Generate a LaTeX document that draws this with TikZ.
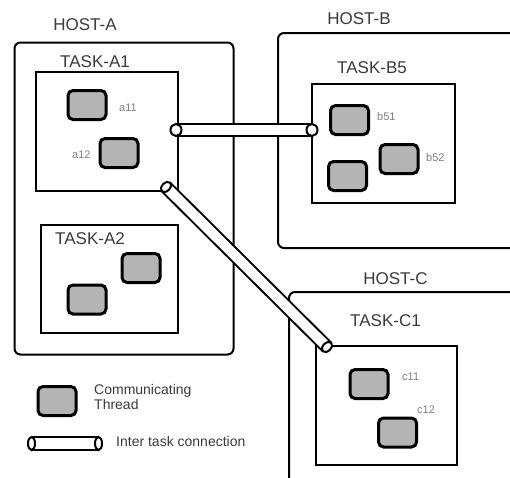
\documentclass[tikz,border=0pt]{standalone}
\usepackage{fontspec}
\setmainfont{Liberation Sans}
\usetikzlibrary{shapes.geometric}
\definecolor{threadgray}{HTML}{B4B4B4}
\definecolor{titlegray}{HTML}{3A3A3A}
\definecolor{namegray}{HTML}{808080}
\tikzset{
  host/.style={draw, line width=2pt, rounded corners=6pt, inner sep=0pt},
  task/.style={draw, line width=2pt, inner sep=0pt},
  thread/.style={draw, line width=3pt, rounded corners=5pt, fill=threadgray, minimum width=38pt, minimum height=29pt, inner sep=0pt},
  title/.style={text=titlegray, font=\fontsize{17}{17}\selectfont, inner sep=0pt},
  tname/.style={text=namegray, font=\fontsize{11}{11}\selectfont, inner sep=0pt, anchor=west},
  legendtext/.style={text=titlegray, font=\fontsize{14}{15}\selectfont, inner sep=0pt, align=left, anchor=west},
  tube/.style={line width=2pt, double=white, double distance=10pt},
  tubecap/.style={ellipse, draw, fill=white, line width=2pt, inner sep=0pt, minimum width=7pt, minimum height=12pt}
}

\begin{document}
\begin{tikzpicture}[x=1pt, y=-1pt]
\useasboundingbox (0,0) rectangle (510,477);
\clip (0,0) rectangle (510,477);

% hosts
\node[host, minimum width=219pt, minimum height=312pt] (hostA) at (124,198.5) {};
\node[host, minimum width=262pt, minimum height=215pt] (hostB) at (409,140.5) {};
\node[host, minimum width=251pt, minimum height=208pt] (hostC) at (414.5,396) {};
\node[title] (hostAtitle) at (85,25) {HOST-A};
\node[title] (hostBtitle) at (359,19) {HOST-B};
\node[title] (hostCtitle) at (395.5,279) {HOST-C};

% tasks
\node[task, minimum width=142pt, minimum height=119pt] (taskA1) at (107,131.5) {};
\node[task, minimum width=137pt, minimum height=108pt] (taskA2) at (109.5,279) {};
\node[task, minimum width=143pt, minimum height=119pt] (taskB5) at (383.5,143.5) {};
\node[task, minimum width=141pt, minimum height=119pt] (taskC1) at (386.5,405.5) {};
\node[title] (taskA1title) at (95,62) {TASK-A1};
\node[title] (taskA2title) at (90,239) {TASK-A2};
\node[title] (taskB5title) at (372,68) {TASK-B5};
\node[title] (taskC1title) at (385.5,320.5) {TASK-C1};

% threads
\node[thread] (a11) at (87,105) {};
\node[thread] (a12) at (119,153) {};
\node[thread] (a21) at (141,268) {};
\node[thread] (a22) at (87,299.5) {};
\node[thread] (b51) at (349.5,120) {};
\node[thread] (b52) at (399,159) {};
\node[thread] (b53) at (347.5,176) {};
\node[thread] (c11) at (369,384) {};
\node[thread] (c12) at (397.5,432.5) {};
\node[tname] at (119,108) {a11};
\node[tname] at (72,155) {a12};
\node[tname] at (377,117) {b51};
\node[tname] at (426,158) {b52};
\node[tname] at (402,377) {c11};
\node[tname] at (417,410) {c12};

% inter task connections
\coordinate (endA1r) at (176,130);
\coordinate (endB5) at (312,130);
\draw[tube] (endA1r) -- (endB5);
\node[tubecap, minimum width=11pt] (capA1r) at (endA1r) {};
\node[tubecap, minimum width=11pt] (capB5) at (endB5) {};

\coordinate (endA1d) at (166,187);
\coordinate (endC1) at (327,347);
\draw[tube] (endA1d) -- (endC1);
\node[tubecap, rotate=-45, minimum width=8pt] (capA1d) at (endA1d) {};
\node[tubecap, rotate=-45, minimum width=8pt] (capC1) at (endC1) {};

% legend
\node[thread] (legthread) at (57,401) {};
\node[legendtext] (legthreadtxt) at (94,397) {Communicating\\Thread};
\coordinate (legL) at (31.5,443.5);
\coordinate (legR) at (98.5,443.5);
\draw[tube, double distance=11pt] (legL) -- (legR);
\node[tubecap, minimum width=7pt, minimum height=13pt] (legcapL) at (legL) {};
\node[tubecap, minimum width=7pt, minimum height=13pt] (legcapR) at (legR) {};
\node[legendtext] (legtubetxt) at (116,441) {Inter task connection};
\end{tikzpicture}
\end{document}
